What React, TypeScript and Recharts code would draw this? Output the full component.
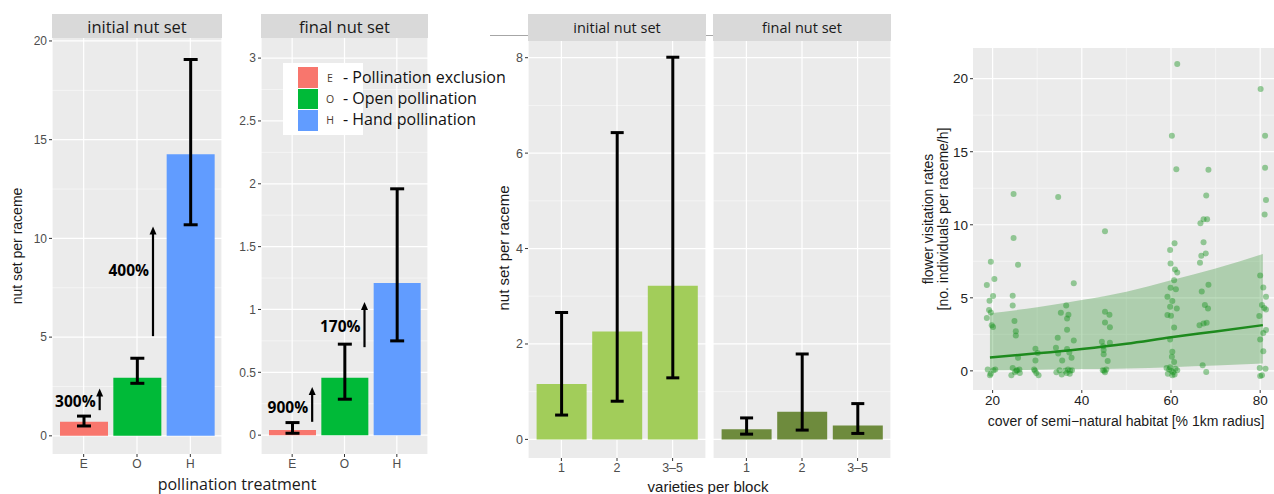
import React from 'react';
import {
  BarChart,
  Bar,
  Cell,
  XAxis,
  YAxis,
  CartesianGrid,
  ErrorBar,
  ReferenceLine,
  ComposedChart,
  Area,
  Line,
  Scatter,
} from 'recharts';

// ---- data ----
const treatments = ['E', 'O', 'H'];
const treatmentColors = ['#F8766D', '#00BA38', '#619CFF'];
const treatmentNames = ['Pollination exclusion', 'Open pollination', 'Hand pollination'];

const initialMean = [0.71, 2.94, 14.26];
const initialLower = [0.5, 2.66, 10.69];
const initialUpper = [1.0, 3.93, 19.06];

const finalMean = [0.04, 0.456, 1.21];
const finalLower = [0.015, 0.286, 0.75];
const finalUpper = [0.1, 0.724, 1.96];

// percentage increase arrows (value range on the y axis)
const initialArrows = [
  { at: 'E', from: 1.3, to: 2.4, labelAt: 1.77, label: '300%' },
  { at: 'O', from: 5.05, to: 10.6, labelAt: 8.4, label: '400%' },
];
const finalArrows = [
  { at: 'E', from: 0.106, to: 0.384, labelAt: 0.223, label: '900%' },
  { at: 'O', from: 0.7, to: 1.06, labelAt: 0.867, label: '170%' },
];

const varieties = ['1', '2', '3–5'];
const varInitialMean = [1.16, 2.26, 3.22];
const varInitialLower = [0.51, 0.8, 1.29];
const varInitialUpper = [2.66, 6.43, 8.01];
const varFinalMean = [0.21, 0.58, 0.29];
const varFinalLower = [0.11, 0.195, 0.125];
const varFinalUpper = [0.45, 1.79, 0.75];

// flower visitation vs semi-natural habitat cover
const visits: [number, number][] = [
  [19.6, 7.47], [20.4, 6.28], [18.7, 5.87], [20.1, 5.12], [19.3, 4.8], [19.2, 4.16], [19.6, 4.0],
  [18.7, 3.61], [19.8, 3.13], [20.1, 3.01], [18.9, 0.1], [19.6, -0.2], [20.2, 0.05], [19.4, -0.3], [20.6, 0.1],
  [24.7, 12.1], [24.7, 9.1], [25.7, 7.26], [24.5, 5.14], [24.5, 4.48], [24.9, 3.42], [25.2, 2.72],
  [25.2, 2.42], [25.7, 0.89], [24.5, 0.2], [25.0, -0.1], [25.5, 0.05], [26.1, -0.15], [24.2, -0.3],
  [25.3, 0.0], [26.0, 0.1],
  [29.6, 1.51], [30.1, 1.23], [29.6, 0.71], [29.3, 0.1], [29.8, -0.15], [30.3, -0.3], [29.5, 0.0],
  [34.7, 11.9], [38.2, 6.0], [36.5, 4.48], [35.3, 3.97], [37.0, 3.84], [36.7, 3.59], [36.7, 2.81],
  [34.6, 2.26], [38.2, 2.08], [34.2, 1.58], [34.7, 1.19], [36.7, 1.49], [37.2, 1.26], [35.6, 0.71],
  [37.7, 0.89], [34.3, -0.1], [35.0, 0.05], [35.5, -0.25], [36.3, 0.0], [36.9, 0.1], [37.3, -0.2],
  [37.8, 0.05], [36.6, -0.15], [37.4, 0.0],
  [45.2, 9.55], [45.2, 4.04], [46.2, 3.84], [45.2, 3.31], [46.3, 2.99], [44.5, 1.99], [46.3, 1.92],
  [44.8, 1.69], [44.9, 1.42], [44.9, 1.14], [45.8, 0.68], [44.7, 0.05], [45.2, -0.1], [45.5, 0.1], [45.0, 0.0],
  [61.4, 21.0], [60.2, 16.1], [61.2, 13.8], [60.8, 8.73], [59.8, 8.27], [59.9, 7.35], [60.9, 6.94],
  [61.4, 6.74], [60.7, 6.21], [59.9, 5.69], [61.1, 5.58], [59.2, 5.07], [60.3, 4.79], [59.8, 4.38],
  [61.3, 4.27], [59.2, 3.82], [60.0, 3.77], [60.7, 2.97], [59.8, 2.15], [60.3, 1.3], [60.2, 0.96],
  [60.7, 0.6], [59.0, 0.2], [59.6, 0.1], [60.1, 0.0], [60.5, -0.1], [61.0, 0.15], [59.3, -0.2],
  [60.8, -0.25], [59.8, 0.25], [61.4, 0.05], [60.3, -0.3],
  [68.4, 13.77], [67.9, 12.0], [66.6, 10.1], [67.3, 10.37], [68.1, 10.37], [67.3, 8.8], [66.8, 7.88],
  [67.8, 8.04], [66.5, 7.4], [68.4, 5.89], [66.9, 5.44], [67.6, 4.5], [68.3, 4.27], [66.4, 3.13],
  [67.3, 3.24], [68.0, 3.29], [67.1, 0.39], [67.9, -0.07],
  [80.1, 19.3], [81.1, 16.1], [81.1, 13.9], [81.3, 11.7], [81.0, 10.7], [80.0, 6.53], [80.7, 5.71],
  [81.3, 5.07], [80.4, 4.5], [81.3, 4.2], [80.9, 4.3], [79.8, 3.75], [81.3, 2.79], [80.7, 2.6],
  [80.0, 2.15], [80.7, 1.35], [79.9, 0.2], [81.2, 0.15], [80.0, -0.35], [80.4, -0.3],
];

// fitted model and its confidence band
const fitX = [19.4, 30, 40, 50, 60, 70, 80.6];
const fitY = [0.92, 1.2, 1.5, 1.86, 2.3, 2.7, 3.13];
const bandLow = [0.04, 0.08, 0.12, 0.17, 0.25, 0.36, 0.5];
const bandHigh = [3.95, 4.35, 4.85, 5.42, 6.2, 7.0, 8.0];

// ---- styles ----
const SANS = '"Liberation Sans", Arial, sans-serif';
const SLIDE = '"Open Sans", sans-serif';
const PANEL_BG = '#EBEBEB';
const STRIP_BG = '#D9D9D9';
const MINOR_GRID = '#F4F4F4';

const buildBars = (
  cats: string[],
  mean: number[],
  lower: number[],
  upper: number[],
  colors: string[]
) =>
  cats.map((c, i) => ({
    name: c,
    mean: mean[i],
    err: [mean[i] - lower[i], upper[i] - mean[i]],
    color: colors[i],
  }));

const initialData = buildBars(treatments, initialMean, initialLower, initialUpper, treatmentColors);
const finalData = buildBars(treatments, finalMean, finalLower, finalUpper, treatmentColors);
const varInitialData = buildBars(varieties, varInitialMean, varInitialLower, varInitialUpper, [
  '#A2CD5A', '#A2CD5A', '#A2CD5A',
]);
const varFinalData = buildBars(varieties, varFinalMean, varFinalLower, varFinalUpper, [
  '#6E8B3D', '#6E8B3D', '#6E8B3D',
]);

const fitData = fitX.map((x, i) => ({ x, fit: fitY[i], band: [bandLow[i], bandHigh[i]] }));
const visitData = visits.map(([x, y]) => ({ x, y }));

type Arrow = { at: string; from: number; to: number; labelAt: number; label: string };

// arrow drawn from the reference line end points, shifted right of the bar centre
const arrowShape = (a: Arrow, dx: number) => (p: any) => {
  const x = p.x1 + dx;
  const y1 = p.y1;
  const y2 = p.y2;
  const yLab = y1 + ((a.labelAt - a.from) / (a.to - a.from)) * (y2 - y1);
  return (
    <g>
      <line x1={x} y1={y1} x2={x} y2={y2 + 6} stroke="#000" strokeWidth={2.2} />
      <polygon points={`${x - 3.5},${y2 + 8} ${x},${y2} ${x + 3.5},${y2 + 8}`} fill="#000" />
      <text
        x={x - 4}
        y={yLab}
        textAnchor="end"
        dominantBaseline="central"
        fontFamily={SLIDE}
        fontWeight={700}
        fontSize={15.5}
        fill="#000"
      >
        {a.label}
      </text>
    </g>
  );
};

const Strip = ({ left, top, width, height, text, size }: any) => (
  <div
    style={{
      position: 'absolute',
      left,
      top,
      width,
      height,
      background: STRIP_BG,
      display: 'flex',
      alignItems: 'center',
      justifyContent: 'center',
      fontFamily: SLIDE,
      fontSize: size,
      color: '#1A1A1A',
    }}
  >
    {text}
  </div>
);

const Title = ({ x, y, text, size, rotate, font, color }: any) => (
  <div
    style={{
      position: 'absolute',
      left: x,
      top: y,
      transform: `translate(-50%, -50%)${rotate ? ' rotate(-90deg)' : ''}`,
      whiteSpace: 'nowrap',
      fontFamily: font || SANS,
      fontSize: size,
      color: color || '#1A1A1A',
      lineHeight: 1,
    }}
  >
    {text}
  </div>
);

interface BarPanelProps {
  left: number;
  width: number;
  data: any[];
  yWidth: number;
  hideY?: boolean;
  top: number;
  right: number;
  bottom: number;
  xHeight: number;
  domain: [number, number];
  ticks: number[];
  minor: number[];
  pad: number;
  barSize: number;
  whisker: number;
  tickFont: number;
  arrows?: Arrow[];
  arrowDx?: number;
}

const BarPanel = ({
  left, width, data, yWidth, hideY, top, right, bottom, xHeight,
  domain, ticks, minor, pad, barSize, whisker, tickFont, arrows, arrowDx = 0,
}: BarPanelProps) => (
  <div style={{ position: 'absolute', left, top: 0 }}>
    <BarChart width={width} height={494} data={data} margin={{ top, right, bottom, left: 0 }}>
      <CartesianGrid fill={PANEL_BG} stroke={MINOR_GRID} vertical={false} horizontalValues={minor} />
      <CartesianGrid stroke="#FFFFFF" strokeWidth={1.2} horizontalValues={ticks} />
      <XAxis
        dataKey="name"
        interval={0}
        padding={{ left: pad, right: pad }}
        height={xHeight}
        axisLine={false}
        tickSize={3}
        tickLine={{ stroke: '#333' }}
        tick={{ fill: '#4D4D4D', fontSize: tickFont, fontFamily: SANS }}
      />
      <YAxis
        type="number"
        domain={domain}
        ticks={ticks}
        allowDataOverflow
        hide={hideY}
        width={yWidth}
        axisLine={false}
        tickSize={3}
        tickLine={{ stroke: '#333' }}
        tick={{ fill: '#4D4D4D', fontSize: tickFont, fontFamily: SANS }}
      />
      <Bar dataKey="mean" barSize={barSize} isAnimationActive={false}>
        {data.map((d, i) => (
          <Cell key={`c-${i}`} fill={d.color} />
        ))}
        <ErrorBar dataKey="err" width={whisker} strokeWidth={3} stroke="#000" direction="y" />
      </Bar>
      {(arrows || []).map((a) => (
        <ReferenceLine
          key={a.label}
          segment={[
            { x: a.at, y: a.from },
            { x: a.at, y: a.to },
          ]}
          shape={arrowShape(a, arrowDx)}
        />
      ))}
    </BarChart>
  </div>
);

const VisitDot = (p: any) => <circle cx={p.cx} cy={p.cy} r={3} fill="#13921A" fillOpacity={0.42} />;

export default function App() {
  return (
    <div
      style={{
        position: 'absolute',
        left: 0,
        top: 0,
        width: 1274,
        height: 494,
        background: '#FFFFFF',
        overflow: 'hidden',
        fontFamily: SANS,
      }}
    >
      {/* initial nut set by pollination treatment */}
      <BarPanel
        left={0}
        width={230}
        data={initialData}
        yWidth={52}
        top={38}
        right={8}
        bottom={10}
        xHeight={30}
        domain={[-0.92, 20.15]}
        ticks={[0, 5, 10, 15, 20]}
        minor={[2.5, 7.5, 12.5, 17.5]}
        pad={5}
        barSize={48}
        whisker={7}
        tickFont={12}
        arrows={initialArrows}
        arrowDx={16}
      />
      <Strip left={52} top={14} width={170} height={24} text="initial nut set" size={16.5} />

      {/* final nut set by pollination treatment */}
      <BarPanel
        left={230}
        width={200}
        data={finalData}
        yWidth={31}
        top={38}
        right={2}
        bottom={10}
        xHeight={30}
        domain={[-0.15, 3.16]}
        ticks={[0, 0.5, 1, 1.5, 2, 2.5, 3]}
        minor={[0.25, 0.75, 1.25, 1.75, 2.25, 2.75]}
        pad={5}
        barSize={47}
        whisker={7}
        tickFont={12}
        arrows={finalArrows}
        arrowDx={20}
      />
      <Strip left={261} top={14} width={167} height={24} text="final nut set" size={16.5} />

      {/* legend */}
      <div style={{ position: 'absolute', left: 283, top: 63, width: 80, height: 72, background: '#FFFFFF' }} />
      {treatments.map((t, i) => (
        <React.Fragment key={t}>
          <div
            style={{
              position: 'absolute',
              left: 298,
              top: 67 + i * 21.7,
              width: 20,
              height: 20.5,
              background: treatmentColors[i],
            }}
          />
          <Title x={330} y={78 + i * 21} text={t} size={10.5} font={SLIDE} color="#4A3A2C" />
          <div
            style={{
              position: 'absolute',
              left: 343,
              top: 77 + i * 21,
              transform: 'translateY(-50%)',
              whiteSpace: 'nowrap',
              fontFamily: SLIDE,
              fontSize: 16,
              lineHeight: 1,
              color: '#111',
            }}
          >
            {`- ${treatmentNames[i]}`}
          </div>
        </React.Fragment>
      ))}

      <Title x={17} y={246} text="nut set per raceme" size={14} rotate />
      <Title x={237} y={484} text="pollination treatment" size={16} font={SLIDE} />

      {/* varieties per block */}
      <div style={{ position: 'absolute', left: 490, top: 35, width: 401, height: 1, background: '#A6A6A6' }} />
      <BarPanel
        left={490}
        width={216}
        data={varInitialData}
        yWidth={38}
        top={41}
        right={0}
        bottom={10}
        xHeight={26}
        domain={[-0.39, 8.35]}
        ticks={[0, 2, 4, 6, 8]}
        minor={[1, 3, 5, 7]}
        pad={5.6}
        barSize={50}
        whisker={6.5}
        tickFont={12.5}
      />
      <BarPanel
        left={713}
        width={178}
        data={varFinalData}
        yWidth={0}
        hideY
        top={41}
        right={0}
        bottom={10}
        xHeight={26}
        domain={[-0.39, 8.35]}
        ticks={[0, 2, 4, 6, 8]}
        minor={[1, 3, 5, 7]}
        pad={5.6}
        barSize={50}
        whisker={6.5}
        tickFont={12.5}
      />
      <Strip left={528} top={14} width={178} height={27} text="initial nut set" size={14.5} />
      <Strip left={713} top={14} width={178} height={27} text="final nut set" size={14.5} />
      <Title x={503} y={248} text="nut set per raceme" size={15} rotate />
      <Title x={708} y={486} text="varieties per block" size={15} />

      {/* flower visitation scatter */}
      <div style={{ position: 'absolute', left: 900, top: 0 }}>
        <ComposedChart width={374} height={494} data={fitData} margin={{ top: 48, right: 0, bottom: 74, left: 0 }}>
          <CartesianGrid
            fill={PANEL_BG}
            stroke={MINOR_GRID}
            horizontalValues={[2.5, 7.5, 12.5, 17.5]}
            verticalValues={[30, 50, 70]}
          />
          <CartesianGrid stroke="#FFFFFF" strokeWidth={1.2} horizontalValues={[0, 5, 10, 15, 20]} verticalValues={[20, 40, 60, 80]} />
          <XAxis
            type="number"
            dataKey="x"
            domain={[15.6, 83.1]}
            ticks={[20, 40, 60, 80]}
            allowDataOverflow
            height={30}
            axisLine={false}
            tickSize={3}
            tickLine={{ stroke: '#333' }}
            tick={{ fill: '#222', fontSize: 13.5, fontFamily: SANS }}
          />
          <YAxis
            type="number"
            domain={[-1.31, 22.1]}
            ticks={[0, 5, 10, 15, 20]}
            allowDataOverflow
            width={73}
            axisLine={false}
            tickSize={3}
            tickLine={{ stroke: '#333' }}
            tick={{ fill: '#222', fontSize: 13.5, fontFamily: SANS }}
          />
          <Scatter data={visitData} dataKey="y" shape={VisitDot} isAnimationActive={false} />
          <Area
            dataKey="band"
            type="monotone"
            fill="#228B22"
            fillOpacity={0.3}
            stroke="none"
            isAnimationActive={false}
          />
          <Line dataKey="fit" type="monotone" stroke="#1E8A1E" strokeWidth={2.5} dot={false} isAnimationActive={false} />
        </ComposedChart>
      </div>
      <Title x={928} y={219} text="flower visitation rates" size={14} rotate />
      <Title x={943} y={219} text="[no. individuals per raceme/h]" size={14} rotate />
      <Title x={1126} y={421} text="cover of semi−natural habitat [% 1km radius]" size={14} />
    </div>
  );
}
